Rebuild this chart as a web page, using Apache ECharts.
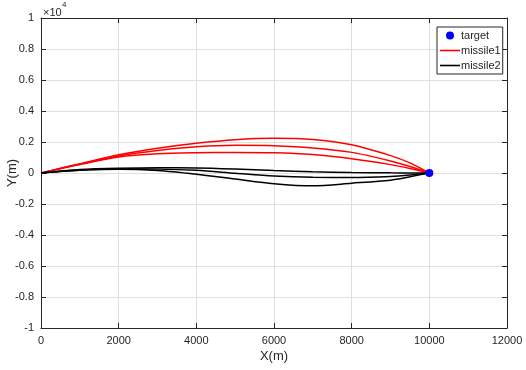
<!DOCTYPE html>
<html><head><meta charset="utf-8">
<script src="https://cdn.jsdelivr.net/npm/echarts@6/dist/echarts.min.js"></script>
<style>html,body{margin:0;padding:0;background:#fff}#c{width:526px;height:370px}</style>
</head><body><div id="c"></div>
<script>
var xs = [0, 500, 1000, 2000, 3000, 4000, 5000, 6000, 7000, 8000, 9000, 9500, 10000];
var missile1A = [0, 300, 600, 1180, 1600, 1920, 2150, 2240, 2160, 1820, 1120, 650, 0];
var missile1B = [0, 290, 570, 1100, 1450, 1690, 1790, 1760, 1620, 1330, 780, 420, 0];
var missile1C = [0, 280, 550, 1030, 1240, 1310, 1330, 1310, 1190, 920, 540, 290, 0];
var missile2A = [0, 120, 220, 300, 340, 330, 260, 160, 80, 30, 10, 5, 0];
var missile2B = [0, 110, 200, 260, 250, 170, -20, -200, -280, -290, -220, -130, 0];
var missile2C = [0, 100, 180, 240, 160, -80, -390, -690, -830, -660, -460, -240, 0];
var targetPoint = [10000, 0];
var xTicks = {min: 0, max: 12000, interval: 2000};
var yTicks = {min: -10000, max: 10000, interval: 2000};

function pts(ys){ return xs.map(function(x,i){ return [x, ys[i]]; }); }
var FONT = 'Liberation Sans, Arial, sans-serif';
var TXT = '#262626';
var LINE_ICON = 'path://M0,0 M20,8 M0,3.2 L20,3.2 L20,4.8 L0,4.8 Z';
function lineSeries(name, ys, color){
  return {type:'line', name:name, data:pts(ys), symbol:'none', smooth:0.3,
    lineStyle:{color:color, width:1.5}, itemStyle:{color:color}, z:3};
}
var chart = echarts.init(document.getElementById('c'), null, {renderer:'canvas'});
function axisCommon(){
  return {
    axisLine:{show:true, onZero:false, lineStyle:{color:TXT, width:1}},
    axisTick:{show:true, inside:true, length:5, lineStyle:{color:TXT}}
  };
}
chart.setOption({
  animation:false,
  backgroundColor:'#fff',
  grid:{left:41, right:19, top:18, bottom:42, containLabel:false, outerBoundsMode:'none'},
  xAxis:[
    Object.assign({type:'value', position:'bottom', min:xTicks.min, max:xTicks.max, interval:xTicks.interval,
      name:'X(m)', nameLocation:'middle', nameGap:22, nameMoveOverlap:false,
      nameTextStyle:{fontFamily:FONT, fontSize:13, color:TXT},
      axisLabel:{fontFamily:FONT, fontSize:11, color:TXT, margin:7, formatter:function(v){return String(v);}},
      splitLine:{show:true, lineStyle:{color:'#dfdfdf', width:1}}}, axisCommon()),
    Object.assign({type:'value', position:'top', min:xTicks.min, max:xTicks.max, interval:xTicks.interval,
      axisLabel:{show:false}, splitLine:{show:false}}, axisCommon())
  ],
  yAxis:[
    Object.assign({type:'value', position:'left', min:yTicks.min, max:yTicks.max, interval:yTicks.interval,
      name:'Y(m)', nameLocation:'middle', nameGap:22, nameMoveOverlap:false,
      nameTextStyle:{fontFamily:FONT, fontSize:13, color:TXT},
      axisLabel:{fontFamily:FONT, fontSize:11, color:TXT, margin:7,
        formatter:function(v){ return String(Math.round(v/10000*10)/10); }},
      splitLine:{show:true, lineStyle:{color:'#dfdfdf', width:1}}}, axisCommon()),
    Object.assign({type:'value', position:'right', min:yTicks.min, max:yTicks.max, interval:yTicks.interval,
      axisLabel:{show:false}, splitLine:{show:false}}, axisCommon())
  ],
  legend:{
    orient:'vertical', left:437, top:27,
    data:[{name:'target', icon:'circle'}, {name:'missile1', icon:LINE_ICON}, {name:'missile2', icon:LINE_ICON}],
    itemWidth:20, itemHeight:8, itemGap:4,
    padding:[3,2,3,3],
    borderColor:TXT, borderWidth:1, backgroundColor:'#fff', borderRadius:0,
    textStyle:{fontFamily:FONT, fontSize:11, lineHeight:10, color:TXT, padding:[0,0,0,-4]}
  },
  graphic:[
    {type:'text', left:43, top:7, style:{text:'×10', font:'11px Liberation Sans, Arial, sans-serif', fill:TXT}},
    {type:'text', left:62, top:1, style:{text:'4', font:'8px Liberation Sans, Arial, sans-serif', fill:TXT}}
  ],
  series:[
    lineSeries('missile1', missile1A, '#ff0000'),
    lineSeries('missile1', missile1B, '#ff0000'),
    lineSeries('missile1', missile1C, '#ff0000'),
    lineSeries('missile2', missile2A, '#000000'),
    lineSeries('missile2', missile2B, '#000000'),
    lineSeries('missile2', missile2C, '#000000'),
    {type:'scatter', name:'target', data:[targetPoint], symbol:'circle', symbolSize:8,
      itemStyle:{color:'#0000ff', opacity:1}, z:5}
  ]
});
</script></body></html>
